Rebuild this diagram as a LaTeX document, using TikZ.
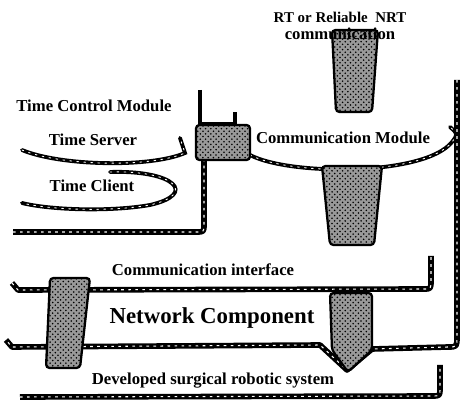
\documentclass[tikz,border=0pt]{standalone}
\usepackage{fontspec}
\setmainfont{Liberation Serif}
\usepackage{tikz}
\usetikzlibrary{positioning,calc,patterns}

\begin{document}
\begin{tikzpicture}[
    x=0.02cm, y=-0.02cm,
    modlabel/.style={font=\bfseries\fontsize{9.5}{11}\selectfont, inner sep=1pt},
    biglabel/.style={font=\bfseries\fontsize{13}{15}\selectfont, inner sep=1pt},
    slab/.style={line width=3.2pt, black, line join=round,
        postaction={draw, white, line width=0.6pt, dash pattern=on 1.5pt off 2.5pt}},
    wall/.style={line width=2.4pt, black, line join=round},
    disc/.style={line width=2.2pt, black, line cap=round,
        postaction={draw, white, line width=0.5pt, dash pattern=on 1pt off 3pt}},
    pipe/.style={draw=black, line width=1.3pt, rounded corners=2pt,
        preaction={fill=black!40}, pattern=crosshatch dots}
]
\useasboundingbox (0,0) rectangle (463,408);

% Time Control Module tray
\draw[slab] (13,232) -- (196,232) .. controls (204,232) .. (204,224) -- (204,124);
\draw[wall] (200,90) -- (200,124) -- (235,124) -- (235,112);
\draw[disc] (22,150) .. controls (60,166) and (150,168) .. (185,153) -- (180,138);
\draw[disc] (110,172) .. controls (175,170) and (198,194) .. (150,205) .. controls (110,212) and (50,210) .. (22,203);

% Communication Module tray
\draw[disc] (250,155) .. controls (290,176) and (425,176) .. (452,142) .. controls (458,134) .. (450,127);
\draw[slab] (457,80) -- (457,336) .. controls (457,347) .. (448,347) -- (372,349) -- (347,370) -- (320,345) -- (12,347) -- (6,340);

% Communication interface tray
\draw[slab] (12,283) -- (18,290) -- (424,289) .. controls (431,289) .. (431,280) -- (431,256);

% Developed surgical robotic system tray
\draw[slab] (20,397) -- (432,396) .. controls (440,396) .. (440,388) -- (440,365);

% Pipes between layers
\draw[pipe] (332,30) -- (378,30) -- (372,112) -- (336,112) -- cycle;
\draw[pipe] (196,125) -- (250,125) -- (250,160) -- (196,160) -- cycle;
\draw[pipe] (322,166) -- (382,166) -- (374,245) -- (330,245) -- cycle;
\draw[pipe] (50,278) -- (90,278) -- (80,368) -- (46,368) -- cycle;
\draw[pipe] (330,293) -- (372,293) -- (372,350) -- (348,372) -- (332,350) -- cycle;

% Labels
\node[modlabel, font=\bfseries\fontsize{8.5}{10}\selectfont] (rt) at (340,17) {RT or Reliable\ \ NRT};
\node[modlabel, below=1pt of rt] (rtcomm) {communication};
\node[modlabel] (tcm) at (94,106) {Time Control Module};
\node[modlabel] (tserver) at (93,140) {Time Server};
\node[modlabel] (tclient) at (92,186) {Time Client};
\node[modlabel] (cm) at (343,138) {Communication Module};
\node[modlabel] (ci) at (203,270) {Communication interface};
\node[biglabel] (nc) at (212,318) {Network Component};
\node[modlabel] (dsrs) at (213,381) {Developed surgical robotic system};

\end{tikzpicture}
\end{document}
